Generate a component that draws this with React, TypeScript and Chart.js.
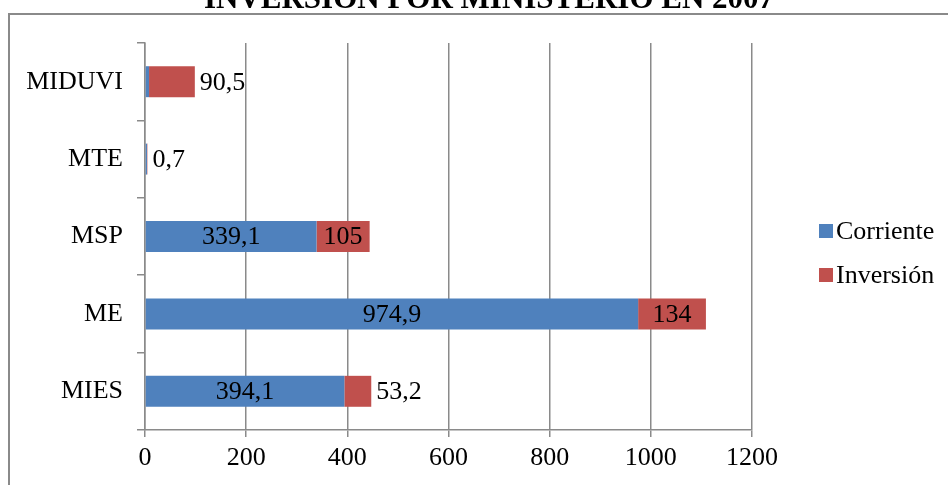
import React, { useEffect, useRef } from "react";
import { Chart, registerables } from "chart.js";

Chart.register(...registerables);

const categories = ["MIDUVI", "MTE", "MSP", "ME", "MIES"];
const corriente = [8, 4, 339.1, 974.9, 394.1];
const inversion = [90.5, 0.7, 105, 134, 53.2];
const xTickStep = 200;
const xMax = 1200;
const seriesNames = ["Corriente", "Inversión"];
const chartTitle = "INVERSIÓN POR MINISTERIO EN 2007";

const FONT = "'Liberation Serif', 'Times New Roman', serif";
const BLUE = "#4F81BD";
const RED = "#C0504D";
const GRID = "#8a8a8a";
const FS = 26;

const fmt = (v: number) => String(v).replace(".", ",");

const decorPlugin = {
  id: "decor",
  beforeDraw(chart: any) {
    const ctx = chart.ctx;
    ctx.save();
    ctx.fillStyle = "#fff";
    ctx.fillRect(0, 0, chart.width, chart.height);
    ctx.strokeStyle = GRID;
    ctx.lineWidth = 2;
    ctx.strokeRect(9, 14, chart.width + 10, chart.height + 10);
    ctx.fillStyle = "#000";
    ctx.font = `bold 31px ${FONT}`;
    ctx.textAlign = "center";
    ctx.textBaseline = "alphabetic";
    ctx.fillText(chartTitle, 489, 8);
    ctx.restore();
  },
  afterDraw(chart: any) {
    const ctx = chart.ctx;
    ctx.save();
    ctx.font = `${FS}px ${FONT}`;
    ctx.textBaseline = "middle";
    ctx.textAlign = "left";
    chart.data.datasets.forEach((ds: any, i: number) => {
      const cy = 231 + i * 44;
      ctx.fillStyle = ds.backgroundColor;
      ctx.fillRect(819, cy - 7, 14, 14);
      ctx.fillStyle = "#000";
      ctx.fillText(ds.label, 836, cy + 1);
    });
    ctx.restore();
  },
  afterDatasetsDraw(chart: any) {
    const ctx = chart.ctx;
    ctx.save();
    ctx.font = `${FS}px ${FONT}`;
    ctx.fillStyle = "#000";
    ctx.textBaseline = "middle";
    const n = chart.data.datasets.length;
    chart.data.datasets.forEach((ds: any, di: number) => {
      const meta = chart.getDatasetMeta(di);
      meta.data.forEach((el: any, i: number) => {
        const v = ds.data[i] as number;
        const text = fmt(v);
        const w = ctx.measureText(text).width;
        const left = Math.min(el.base, el.x);
        const right = Math.max(el.base, el.x);
        if (w + 8 <= right - left) {
          ctx.textAlign = "center";
          ctx.fillText(text, (left + right) / 2, el.y + 1);
        } else if (di === n - 1) {
          ctx.textAlign = "left";
          ctx.fillText(text, right + 5, el.y + 1);
        }
      });
    });
    ctx.restore();
  },
};

export default function App() {
  const ref = useRef<HTMLCanvasElement | null>(null);

  useEffect(() => {
    if (!ref.current) return;
    const chart = new Chart(ref.current, {
      type: "bar",
      data: {
        labels: categories,
        datasets: [
          {
            label: seriesNames[0],
            data: corriente,
            backgroundColor: BLUE,
            borderWidth: 0,
            barPercentage: 0.4,
            categoryPercentage: 1,
          },
          {
            label: seriesNames[1],
            data: inversion,
            backgroundColor: RED,
            borderWidth: 0,
            barPercentage: 0.4,
            categoryPercentage: 1,
          },
        ],
      },
      options: {
        indexAxis: "y",
        animation: false,
        responsive: true,
        maintainAspectRatio: false,
        layout: { padding: { top: 43, right: 196, left: 0, bottom: 0 } },
        plugins: {
          legend: { display: false },
          title: { display: false },
          tooltip: { enabled: false },
        },
        scales: {
          x: {
            type: "linear",
            stacked: true,
            min: 0,
            max: xMax,
            ticks: {
              stepSize: xTickStep,
              color: "#000",
              font: { family: FONT, size: FS },
              padding: 6,
              callback: (v: any) => String(v),
            },
            grid: { color: GRID, lineWidth: 1.5, tickLength: 7 },
            border: { color: GRID, width: 1.5 },
            afterFit: (s: any) => {
              s.height = 55;
            },
          },
          y: {
            type: "category",
            stacked: true,
            offset: true,
            ticks: {
              color: "#000",
              font: { family: FONT, size: FS },
              padding: 14,
            },
            grid: {
              offset: true,
              drawOnChartArea: false,
              tickLength: 8,
              color: GRID,
              lineWidth: 1.5,
            },
            border: { color: GRID, width: 1.5 },
            afterFit: (s: any) => {
              s.width = 145;
            },
          },
        },
      } as any,
      plugins: [decorPlugin],
    });
    return () => chart.destroy();
  }, []);

  return (
    <div style={{ position: "absolute", left: 0, top: 0, width: 948, height: 485 }}>
      <canvas ref={ref} />
    </div>
  );
}
